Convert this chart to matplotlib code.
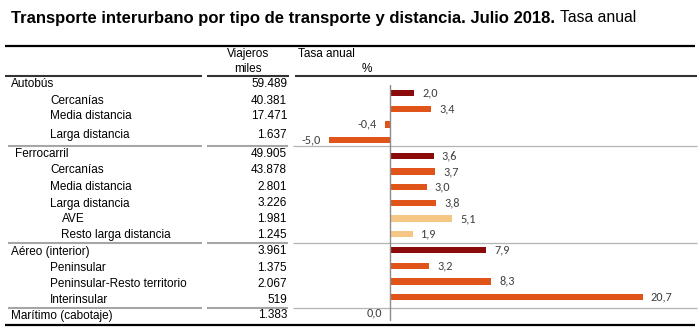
import matplotlib
matplotlib.use('Agg')
import matplotlib.pyplot as plt

# ── datos ──
categorias = ['Autobús', 'Cercanías', 'Media distancia', 'Larga distancia',
              'Ferrocarril', 'Cercanías', 'Media distancia', 'Larga distancia',
              'AVE', 'Resto larga distancia',
              'Aéreo (interior)', 'Peninsular', 'Peninsular-Resto territorio', 'Interinsular',
              'Marítimo (cabotaje)']
viajeros = ['59.489', '40.381', '17.471', '1.637',
            '49.905', '43.878', '2.801', '3.226', '1.981', '1.245',
            '3.961', '1.375', '2.067', '519',
            '1.383']
tasa = [2.0, 3.4, -0.4, -5.0,
        3.6, 3.7, 3.0, 3.8, 5.1, 1.9,
        7.9, 3.2, 8.3, 20.7,
        0.0]
nivel = [0, 1, 1, 1, 0, 1, 1, 1, 2, 2, 0, 1, 1, 1, 0]

# ── estilo / maquetación (px) ──
FONT = 'Liberation Sans'
LBL = ['Carlito', 'Lato', 'DejaVu Sans']
fila_y = [84, 100.5, 116, 135, 154, 170, 186.5, 203.5, 219, 235,
          251.5, 268, 284, 300, 315.5]
sangria = {0: 11, 1: 50, 2: 62}
sangria_extra = {4: 4, 9: -1}
col_nivel = {0: '#8b0a0a', 1: '#e0541a', 2: '#f6c684'}
sep_y = [145.5, 243, 308]

W, H = 700, 330
fig = plt.figure(figsize=(W / 100, H / 100), dpi=100)
bg = fig.add_axes([0, 0, 1, 1])
bg.set_xlim(0, W)
bg.set_ylim(H, 0)
bg.axis('off')

# título
t = bg.text(11, 18, 'Transporte interurbano por tipo de transporte y distancia. Julio 2018.',
            fontsize=12, fontweight='bold', family=FONT, va='center', ha='left')
fig.canvas.draw()
bb = t.get_window_extent()
bg.text(bb.x1 + 5, 18, 'Tasa anual', fontsize=11.3, family=FONT, va='center', ha='left')

# cabecera
bg.plot([5, 695], [45.5, 45.5], color='black', lw=1.6, solid_capstyle='butt')
for x0, x1 in [(5, 202), (207, 289), (295, 697)]:
    bg.plot([x0, x1], [76, 76], color='#333333', lw=1.5, solid_capstyle='butt')
bg.text(248, 54, 'Viajeros', fontsize=8.5, family=FONT, ha='center', va='center')
bg.text(248, 69, 'miles', fontsize=8.5, family=FONT, ha='center', va='center')
bg.text(298, 54, 'Tasa anual', fontsize=8.5, family=FONT, ha='left', va='center')
bg.text(367, 69, '%', fontsize=8.5, family=FONT, ha='center', va='center')

# tabla izquierda
for i, (c, v, n) in enumerate(zip(categorias, viajeros, nivel)):
    y = fila_y[i]
    bg.text(sangria[n] + sangria_extra.get(i, 0), y, c, fontsize=8.5, family=FONT,
            ha='left', va='center')
    bg.text(287, y, v, fontsize=8.5, family=FONT, ha='right', va='center')

for y in sep_y:
    for x0, x1 in [(8, 202), (207, 288)]:
        bg.plot([x0, x1], [y, y], color='#a6a6a6', lw=1.5, solid_capstyle='butt')
    bg.plot([293, 697], [y, y], color='#b4b4b4', lw=0.9, solid_capstyle='butt')
bg.plot([5, 695], [325, 325], color='black', lw=1.6, solid_capstyle='butt')

# barras: filas 0..14 -> 93..313 px
b0, bd = 93.0, 15.7
top = b0 - bd / 2
bot = b0 + bd * (len(tasa) - 0.5)
ax_l, ax_r = 293, 697
ax = fig.add_axes([ax_l / W, 1 - bot / H, (ax_r - ax_l) / W, (bot - top) / H])
ax.set_ylim(len(tasa) - 0.5, -0.5)
ppu = 12.2
ax.set_xlim(-(390 - ax_l) / ppu, (ax_r - 390) / ppu)
ax.axis('off')
ax.patch.set_alpha(0)

filas = list(range(len(tasa)))
ax.barh(filas, tasa, height=0.4, color=[col_nivel[n] for n in nivel])
ax.plot([0, 0], [-0.5, len(tasa) - 0.5], color='#8c8c8c', lw=1)
for i, v in enumerate(tasa):
    txt = f'{v:.1f}'.replace('.', ',')
    if v > 0:
        ax.text(v + 0.65, i, txt, fontsize=8.8, family=LBL, color='#404040', ha='left', va='center')
    else:
        ax.text(v - 0.65, i, txt, fontsize=8.8, family=LBL, color='#404040', ha='right', va='center')

plt.savefig('out.png', dpi=100)
